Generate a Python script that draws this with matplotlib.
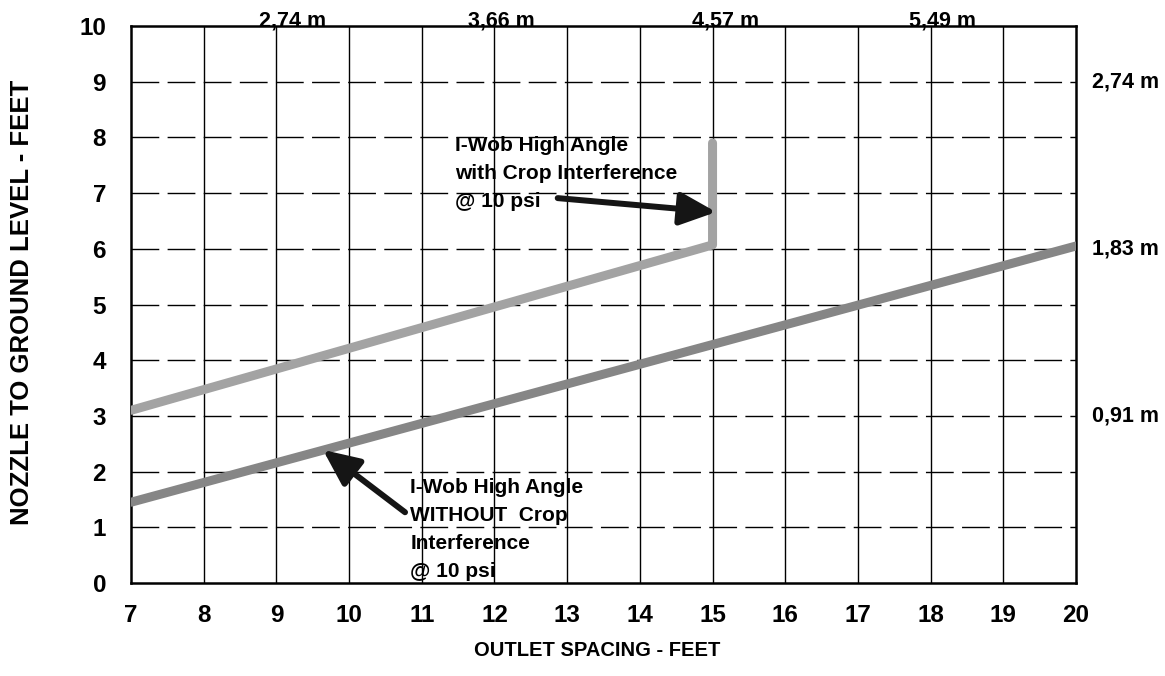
import numpy as np
import matplotlib
matplotlib.use("Agg")
import matplotlib.pyplot as plt

plt.rcParams['font.family'] = ['Liberation Sans', 'DejaVu Sans']
plt.rcParams['font.weight'] = 'bold'

# outlet spacing (ft) vs nozzle height (ft)
with_crop_x = [7, 15, 15]
with_crop_y = [3.1, 6.07, 7.9]
without_crop_x = [7, 20]
without_crop_y = [1.45, 6.05]

x_ticks = list(range(7, 21))
y_ticks = list(range(0, 11))
top_labels = ["2,74 m", "3,66 m", "4,57 m", "5,49 m"]
top_pos = [9.22, 12.1, 15.18, 18.17]
right_labels = ["0,91 m", "1,83 m", "2,74 m"]
right_pos = [3, 6, 9]

fig = plt.figure(figsize=(11.65, 6.76), dpi=100)
ax = fig.add_axes([131 / 1165, 93 / 676, 945 / 1165, 557 / 676])

ax.set_xlim(7, 20)
ax.set_ylim(0, 10)
ax.set_xticks(x_ticks)
ax.set_yticks(y_ticks)
ax.tick_params(length=0, labelsize=17.5)
ax.tick_params(axis='y', pad=18)
ax.tick_params(axis='x', pad=15)
for lab in ax.get_xticklabels() + ax.get_yticklabels():
    lab.set_fontweight('bold')

# grid: solid verticals, dashed horizontals
for x in x_ticks[1:-1]:
    ax.axvline(x, color='black', lw=1.0, zorder=1)
for y in y_ticks[1:-1]:
    ax.axhline(y, color='black', lw=1.0, dashes=(20, 6), zorder=1)

for sp in ax.spines.values():
    sp.set_linewidth(1.8)

ax.plot(with_crop_x, with_crop_y, color='#a3a3a3', lw=6.5,
        solid_capstyle='round', solid_joinstyle='round', zorder=3)
ax.plot(without_crop_x, without_crop_y, color='#868686', lw=6.5,
        solid_capstyle='round', zorder=3)

arrow = dict(arrowstyle='-|>,head_length=1.1,head_width=0.5',
             color='#151515', lw=4.3, shrinkA=0, shrinkB=0,
             mutation_scale=20)

ax.text(11.46, 6.75, "I-Wob High Angle\nwith Crop Interference\n@ 10 psi",
        fontsize=15, fontweight='bold', ha='left', va='baseline',
        linespacing=1.6, zorder=4)
ax.annotate("", xy=(15.05, 6.66), xytext=(12.87, 6.91),
            arrowprops=arrow, zorder=4)

ax.text(10.84, 0.11, "I-Wob High Angle\nWITHOUT  Crop\nInterference\n@ 10 psi",
        fontsize=15, fontweight='bold', ha='left', va='baseline',
        linespacing=1.6, zorder=4)
ax.annotate("", xy=(9.64, 2.39), xytext=(10.77, 1.27),
            arrowprops=arrow, zorder=4)

for lab, xp in zip(top_labels, top_pos):
    ax.text(xp, 10.0, lab, ha='center', va='baseline', fontsize=15.5,
            fontweight='bold', clip_on=False)
for lab, yp in zip(right_labels, right_pos):
    ax.text(20.22, yp, lab, ha='left', va='center', fontsize=15.5,
            fontweight='bold', clip_on=False)

fig.text(597 / 1165, 1 - 650 / 676, "OUTLET SPACING - FEET",
         ha='center', va='center', fontsize=14.5, fontweight='bold')
fig.text(22 / 1165, 1 - 302 / 676, "NOZZLE TO GROUND LEVEL - FEET",
         ha='center', va='center', rotation=90, fontsize=18.5,
         fontweight='bold')

fig.savefig("out.png", dpi=100)
